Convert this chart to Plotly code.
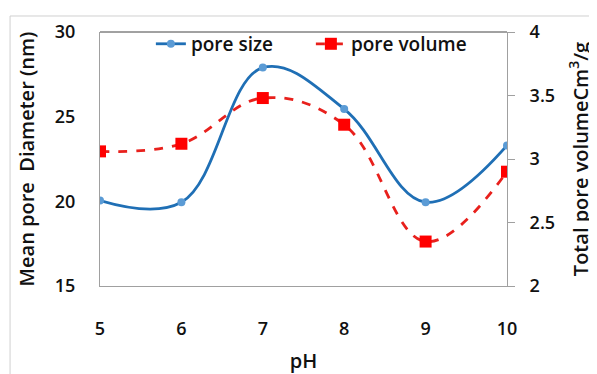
import plotly.graph_objects as go

ph = [5, 6, 7, 8, 9, 10]
pore_size = [20.05, 19.95, 27.9, 25.45, 19.95, 23.3]
pore_volume = [3.06, 3.12, 3.48, 3.27, 2.35, 2.9]

FONT = "Open Sans"
fig = go.Figure()
fig.add_trace(go.Scatter(
    x=ph, y=pore_size, name="pore size", mode="lines+markers",
    line=dict(color="#1f6fb5", width=2.8, shape="spline", smoothing=1.1),
    marker=dict(color="#5b9bd5", size=8, symbol="circle"),
))
fig.add_trace(go.Scatter(
    x=ph, y=pore_volume, name="pore volume", mode="lines+markers", yaxis="y2",
    line=dict(color="#e8201c", width=2.8, dash="dash", shape="spline", smoothing=1.1),
    marker=dict(color="#ff0000", size=12, symbol="square"),
))

tickfont = dict(family=FONT, size=18, color="#111", weight=600)
titlefont = dict(family=FONT, size=20, color="#111", weight=600)

fig.update_layout(
    width=589, height=366,
    margin=dict(l=92, r=90, t=24, b=88, autoexpand=False),
    paper_bgcolor="white", plot_bgcolor="white",
    showlegend=True,
    legend=dict(orientation="h", x=0.125, xanchor="left", y=0.953, yanchor="middle",
                bgcolor="rgba(0,0,0,0)", font=dict(family=FONT, size=19, color="#111", weight=600),
                entrywidth=115, entrywidthmode="pixels", tracegroupgap=0),
    xaxis=dict(range=[5, 10], tickvals=ph, showgrid=False, zeroline=False, automargin=False,
               showline=True, linecolor="#a0a0a0", linewidth=1, mirror=False,
               tickfont=tickfont, ticks="", ticklabelstandoff=26,
               title=dict(text="pH", font=titlefont, standoff=22)),
    yaxis=dict(range=[15, 30], tickvals=[15, 20, 25, 30], showgrid=False, zeroline=False,
               automargin=False,
               showline=True, linecolor="#a0a0a0", linewidth=1,
               tickfont=tickfont, ticks="", ticklabelstandoff=20,
               title=dict(text="Mean pore  Diameter (nm)", font=titlefont, standoff=14)),
    yaxis2=dict(range=[2, 4], tickvals=[2, 2.5, 3, 3.5, 4], overlaying="y", side="right",
                automargin=False,
                showgrid=False, zeroline=False, showline=True, linecolor="#a0a0a0", linewidth=1,
                ticks="outside", ticklen=7, tickcolor="#a0a0a0",
                tickfont=tickfont, ticklabelstandoff=11,
                title=dict(text="Total pore volumeCm<sup>3</sup>/g", font=titlefont, standoff=19)),
    shapes=[
        dict(type="line", xref="paper", yref="paper", x0=0, x1=1, y0=1, y1=1,
             line=dict(color="#444", width=1)),
        dict(type="line", xref="paper", yref="paper", x0=-0.221, x1=1.25, y0=1.063, y1=1.063,
             line=dict(color="#d0d0d0", width=1)),
        dict(type="line", xref="paper", yref="paper", x0=-0.221, x1=-0.221, y0=1.063, y1=-0.4,
             line=dict(color="#d0d0d0", width=1)),
    ],
)

fig.write_html("out.html")
